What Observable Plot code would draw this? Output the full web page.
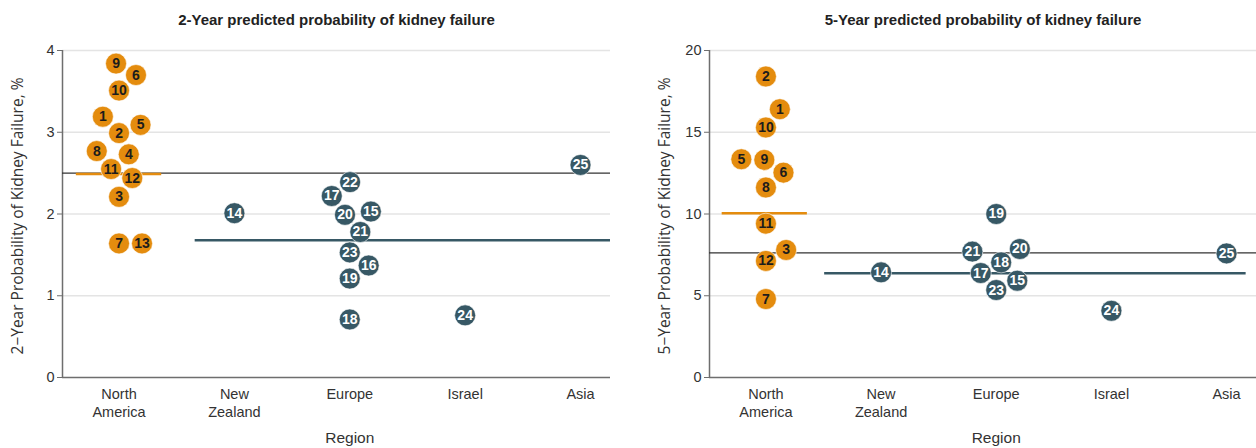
<!DOCTYPE html>
<html>
<head>
<meta charset="utf-8">
<script src="https://cdn.jsdelivr.net/npm/d3@7"></script>
<script src="https://cdn.jsdelivr.net/npm/@observablehq/plot@0.6"></script>
<style>
  html, body { margin: 0; padding: 0; background: #fff; }
  #charts { display: flex; width: 1256px; height: 448px; overflow: hidden; }
  #charts svg { display: block; flex: none; }
</style>
</head>
<body>
<div id="charts"></div>
<script>
// Regions on the x axis, in display order
const regions = ["North America", "New Zealand", "Europe", "Israel", "Asia"];
const regionLabels = ["North\nAmerica", "New\nZealand", "Europe", "Israel", "Asia"];

// Cohorts (numbered 1-25) and the region each belongs to
const cohortIds = [1, 2, 3, 4, 5, 6, 7, 8, 9, 10, 11, 12, 13, 14, 15, 16, 17, 18, 19, 20, 21, 22, 23, 24, 25];
const cohortRegion = [
  "North America", "North America", "North America", "North America", "North America",
  "North America", "North America", "North America", "North America", "North America",
  "North America", "North America", "North America", "New Zealand", "Europe",
  "Europe", "Europe", "Europe", "Europe", "Europe",
  "Europe", "Europe", "Europe", "Israel", "Asia"
];

// Predicted probability of kidney failure (%) per cohort; null = not available
const risk2yr = [3.19, 2.99, 2.21, 2.73, 3.09, 3.70, 1.64, 2.77, 3.84, 3.51, 2.55, 2.44, 1.64,
                 2.01, 2.03, 1.37, 2.22, 0.71, 1.21, 1.99, 1.78, 2.39, 1.53, 0.76, 2.60];
const risk5yr = [16.41, 18.41, 7.80, null, 13.35, 12.53, 4.80, 11.62, 13.31, 15.29, 9.41, 7.13, null,
                 6.43, 5.92, null, 6.39, 7.04, 10.00, 7.86, 7.70, null, 5.35, 4.08, 7.59];

// Pooled reference values (%): all cohorts, North America, all other regions
const overall2yr = 2.50, northAmerica2yr = 2.49, otherRegions2yr = 1.68;
const overall5yr = 7.62, northAmerica5yr = 10.04, otherRegions5yr = 6.37;

// Tick values
const ticks2yr = [0, 1, 2, 3, 4];
const ticks5yr = [0, 5, 10, 15, 20];

const orange = "#E48C0E";
const slate = "#375865";
const xDomain = [0.51, 5.26];
const dotRadius = 10.5;
const font = "'Liberation Sans', Arial, sans-serif";

// Simple beeswarm: place points in ascending order at the free offset closest to the column centre
function swarm(rows, ky, diam) {
  for (const [, group] of d3.group(rows, d => d.slot)) {
    const sorted = [...group].sort((a, b) => a.value - b.value || a.id - b.id);
    const placed = [];
    for (const d of sorted) {
      const py = d.value * ky;
      const cands = [0];
      for (const p of placed) {
        const dy = py - p.py;
        if (Math.abs(dy) < diam) {
          const off = Math.sqrt(diam * diam - dy * dy);
          cands.push(p.off + off, p.off - off);
        }
      }
      const ok = cands.filter(c => placed.every(p => (c - p.off) ** 2 + (py - p.py) ** 2 >= diam * diam - 1e-6));
      let best = ok[0];
      for (const c of ok) if (Math.abs(c) < Math.abs(best) - 1e-9) best = c;
      d.offset = best;
      placed.push({py, off: best});
    }
  }
}

function panel(cfg) {
  const {values, title, yLabel, yMax, yTicks, overall, naRef, otherRef, otherSpan, naSpan,
         width, marginLeft, marginRight} = cfg;
  const height = 448, marginTop = 50, marginBottom = 71;
  const kx = (width - marginLeft - marginRight) / (xDomain[1] - xDomain[0]);
  const ky = (height - marginTop - marginBottom) / yMax;

  const rows = cohortIds
    .map((id, i) => ({id, region: cohortRegion[i], value: values[i]}))
    .filter(d => d.value != null)
    .map(d => ({...d, slot: regions.indexOf(d.region) + 1}));
  swarm(rows, ky, dotRadius * 2 + 2);
  rows.forEach(d => { d.x = d.slot + d.offset / kx; d.na = d.region === "North America"; });

  const mid = (1 + regions.length) / 2;

  return Plot.plot({
    width, height, marginLeft, marginRight, marginTop, marginBottom,
    style: {fontFamily: font, background: "#fff", color: "#333"},
    x: {domain: xDomain},
    y: {domain: [0, yMax]},
    marks: [
      Plot.gridY(yTicks.filter(t => t > 0), {stroke: "#e4e4e4", strokeOpacity: 1, strokeWidth: 1.5}),
      Plot.ruleX([xDomain[0]], {stroke: "#6e6e6e", strokeWidth: 1.5}),
      Plot.ruleY([0], {stroke: "#6e6e6e", strokeWidth: 1.5}),
      Plot.axisY({ticks: yTicks, tickFormat: d => String(d), tickSize: 5, tickPadding: 3, fontSize: 14.5,
                  label: null, stroke: "#6e6e6e", fill: "#333"}),
      Plot.axisX({ticks: d3.range(1, regions.length + 1), tickFormat: i => regionLabels[i - 1],
                  tickSize: 0, tickPadding: 9, fontSize: 14.5, lineHeight: 1.25, label: null, fill: "#333"}),
      // reference lines
      Plot.ruleY([overall], {stroke: "#333", strokeWidth: 1.3}),
      Plot.ruleY([otherRef], {x1: otherSpan[0], x2: otherSpan[1], stroke: slate, strokeWidth: 2.5}),
      Plot.ruleY([naRef], {x1: naSpan[0], x2: naSpan[1], stroke: orange, strokeWidth: 2.5}),
      // cohorts
      Plot.dot(rows, {x: "x", y: "value", r: dotRadius, fill: d => d.na ? orange : slate,
                      stroke: "#fff", strokeWidth: 0.6}),
      Plot.text(rows, {x: "x", y: "value", text: d => String(d.id), fill: d => d.na ? "#1c1c1c" : "#fff",
                       fontWeight: "bold", fontSize: 14}),
      // titles
      Plot.text([title], {frameAnchor: "top", dy: -36, fontSize: 15, fontWeight: "bold", fill: "#222"}),
      Plot.text([yLabel], {frameAnchor: "left", textAnchor: "middle", rotate: -90, dx: -44, dy: 2,
                           fontSize: 15.5, fontFamily: "'Open Sans', 'Noto Sans', sans-serif", fill: "#333"}),
      Plot.text(["Region"], {x: () => mid, frameAnchor: "bottom", dy: 65, fontSize: 15.5, fill: "#333"})
    ]
  });
}

const charts = document.getElementById("charts");
charts.append(panel({
  values: risk2yr,
  title: "2-Year predicted probability of kidney failure",
  yLabel: "2\u2212Year Probability of Kidney Failure, %",
  yMax: 4, yTicks: ticks2yr,
  overall: overall2yr, naRef: northAmerica2yr, otherRef: otherRegions2yr,
  naSpan: [0.63, 1.37], otherSpan: [1.66, 5.26],
  width: 640, marginLeft: 62, marginRight: 30
}));
charts.append(panel({
  values: risk5yr,
  title: "5-Year predicted probability of kidney failure",
  yLabel: "5\u2212Year Probability of Kidney Failure, %",
  yMax: 20, yTicks: ticks5yr,
  overall: overall5yr, naRef: northAmerica5yr, otherRef: otherRegions5yr,
  naSpan: [0.62, 1.36], otherSpan: [1.51, 5.17],
  width: 616, marginLeft: 69, marginRight: 0
}));
</script>
</body>
</html>
